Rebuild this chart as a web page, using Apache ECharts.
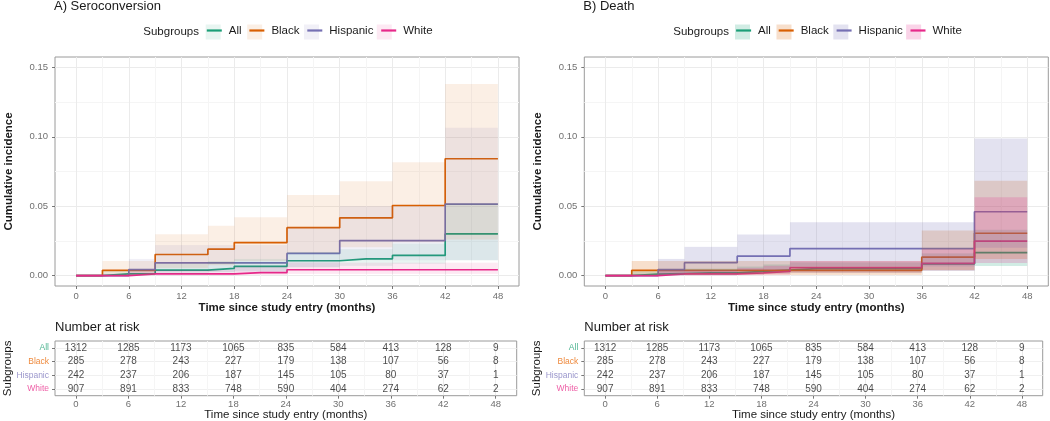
<!DOCTYPE html>
<html>
<head>
<meta charset="utf-8">
<script src="https://cdn.jsdelivr.net/npm/echarts@6/dist/echarts.min.js"></script>
<style>
html, body { margin: 0; padding: 0; background: #fff; }
#main { width: 1050px; height: 421px; }
</style>
</head>
<body>
<div id="main"></div>
<script>
// groups and colours
var groups = ['All', 'Black', 'Hispanic', 'White'];
var colors = ['#1B9E77', '#D95F02', '#7570B3', '#E7298A'];
var rgb = ['27,158,119', '217,95,2', '117,112,179', '231,41,138'];
var riskColors = ['#4fb592', '#ee8a3e', '#9b97cc', '#ee5ea6'];

// step times (months); value i holds from T[i] to T[i+1]
var T = [0, 3, 6, 9, 12, 15, 18, 21, 24, 27, 30, 33, 36, 39, 42, 45, 48];

// A) Seroconversion
var seroAll     = [0, 0.0012, 0.0015, 0.004, 0.004, 0.0052, 0.0067, 0.0067, 0.0107, 0.0107, 0.0121, 0.0121, 0.0145, 0.0145, 0.030, 0.030, 0.030];
var seroAllLo   = [0, 0.0002, 0.0003, 0.0015, 0.0015, 0.0024, 0.0034, 0.0034, 0.006, 0.006, 0.007, 0.007, 0.0085, 0.0085, 0.011, 0.011, 0.011];
var seroAllHi   = [0, 0.0035, 0.004, 0.0085, 0.0085, 0.0105, 0.012, 0.012, 0.017, 0.017, 0.019, 0.019, 0.023, 0.023, 0.052, 0.052, 0.052];
var seroBlack   = [0, 0.0038, 0.0038, 0.0152, 0.0152, 0.019, 0.0238, 0.0238, 0.0345, 0.0345, 0.0416, 0.0416, 0.0505, 0.0505, 0.0842, 0.0842, 0.0842];
var seroBlackLo = [0, 0.0005, 0.0005, 0.0055, 0.0055, 0.0075, 0.0105, 0.0105, 0.0165, 0.0165, 0.0205, 0.0205, 0.024, 0.024, 0.026, 0.026, 0.026];
var seroBlackHi = [0, 0.0105, 0.0105, 0.0298, 0.0298, 0.036, 0.042, 0.042, 0.058, 0.058, 0.068, 0.068, 0.0816, 0.0816, 0.138, 0.138, 0.138];
var seroHisp    = [0, 0, 0.0043, 0.0092, 0.0092, 0.0092, 0.0092, 0.0092, 0.016, 0.016, 0.0252, 0.0252, 0.0252, 0.0252, 0.0515, 0.0515, 0.0515];
var seroHispLo  = [0, 0, 0.0006, 0.0025, 0.0025, 0.0025, 0.0025, 0.0025, 0.006, 0.006, 0.011, 0.011, 0.011, 0.011, 0.011, 0.011, 0.011];
var seroHispHi  = [0, 0, 0.012, 0.022, 0.022, 0.022, 0.022, 0.022, 0.035, 0.035, 0.05, 0.05, 0.05, 0.05, 0.1066, 0.1066, 0.1066];
var seroWhite   = [0, 0, 0.0012, 0.0012, 0.0012, 0.0012, 0.0022, 0.0022, 0.0042, 0.0042, 0.0042, 0.0042, 0.0042, 0.0042, 0.0042, 0.0042, 0.0042];
var seroWhiteLo = [0, 0, 0.0001, 0.0001, 0.0001, 0.0001, 0.0004, 0.0004, 0.0012, 0.0012, 0.0012, 0.0012, 0.0012, 0.0012, 0.0012, 0.0012, 0.0012];
var seroWhiteHi = [0, 0, 0.004, 0.004, 0.004, 0.004, 0.0065, 0.0065, 0.0093, 0.0093, 0.0093, 0.0093, 0.0093, 0.0093, 0.0093, 0.0093, 0.0093];

// B) Death
var deathAll     = [0, 0.001, 0.0015, 0.002, 0.002, 0.003, 0.004, 0.005, 0.005, 0.005, 0.005, 0.005, 0.0085, 0.0085, 0.0165, 0.0165, 0.0165];
var deathAllLo   = [0, 0.0002, 0.0003, 0.0005, 0.0005, 0.001, 0.0015, 0.002, 0.002, 0.002, 0.002, 0.002, 0.0035, 0.0035, 0.007, 0.007, 0.007];
var deathAllHi   = [0, 0.003, 0.004, 0.005, 0.005, 0.0065, 0.008, 0.0095, 0.0095, 0.0095, 0.0095, 0.0095, 0.016, 0.016, 0.033, 0.033, 0.033];
var deathBlack   = [0, 0.0038, 0.0038, 0.0038, 0.0038, 0.0038, 0.0038, 0.0038, 0.0038, 0.0038, 0.0038, 0.0038, 0.0133, 0.0133, 0.0305, 0.0305, 0.0305];
var deathBlackLo = [0, 0.0005, 0.0005, 0.0005, 0.0005, 0.0005, 0.0005, 0.0005, 0.0005, 0.0005, 0.0005, 0.0005, 0.004, 0.004, 0.012, 0.012, 0.012];
var deathBlackHi = [0, 0.0105, 0.0105, 0.0105, 0.0105, 0.0105, 0.0105, 0.0105, 0.0105, 0.0105, 0.0105, 0.0105, 0.0324, 0.0324, 0.0684, 0.0684, 0.0684];
var deathHisp    = [0, 0, 0.0043, 0.0093, 0.0093, 0.014, 0.014, 0.0195, 0.0195, 0.0195, 0.0195, 0.0195, 0.0195, 0.0195, 0.046, 0.046, 0.046];
var deathHispLo  = [0, 0, 0.0006, 0.002, 0.002, 0.004, 0.004, 0.0065, 0.0065, 0.0065, 0.0065, 0.0065, 0.0065, 0.0065, 0.02, 0.02, 0.02];
var deathHispHi  = [0, 0, 0.012, 0.0207, 0.0207, 0.0296, 0.0296, 0.0384, 0.0384, 0.0384, 0.0384, 0.0384, 0.0384, 0.0384, 0.0988, 0.0988, 0.0988];
var deathWhite   = [0, 0, 0.0012, 0.0012, 0.0012, 0.002, 0.003, 0.0057, 0.0057, 0.0057, 0.0057, 0.0057, 0.0088, 0.0088, 0.0248, 0.0248, 0.0248];
var deathWhiteLo = [0, 0, 0.0001, 0.0001, 0.0001, 0.0004, 0.0008, 0.002, 0.002, 0.002, 0.002, 0.002, 0.0035, 0.0035, 0.009, 0.009, 0.009];
var deathWhiteHi = [0, 0, 0.004, 0.004, 0.004, 0.0055, 0.007, 0.0105, 0.0105, 0.0105, 0.0105, 0.0105, 0.019, 0.019, 0.0565, 0.0565, 0.0565];

// number at risk (same table under both panels)
var riskTimes    = [0, 6, 12, 18, 24, 30, 36, 42, 48];
var riskAll      = [1312, 1285, 1173, 1065, 835, 584, 413, 128, 9];
var riskBlack    = [285, 278, 243, 227, 179, 138, 107, 56, 8];
var riskHispanic = [242, 237, 206, 187, 145, 105, 80, 37, 1];
var riskWhite    = [907, 891, 833, 748, 590, 404, 274, 62, 2];

// axis ticks
var xTicks = [0, 6, 12, 18, 24, 30, 36, 42, 48];
var xMinor = [3, 9, 15, 21, 27, 33, 39, 45];
var yTicks = [0, 0.05, 0.10, 0.15];
var yMinor = [0.025, 0.075, 0.125];

var FONT = 'Liberation Sans, Arial, sans-serif';

var panels = [
    {
        key: 'A', title: 'A) Seroconversion', left: 55, tableWidth: 461.7,
        subLeft: 143.3, legendLeft: 205.7, alpha: 0.1,
        est: [seroAll, seroBlack, seroHisp, seroWhite],
        lo: [seroAllLo, seroBlackLo, seroHispLo, seroWhiteLo],
        hi: [seroAllHi, seroBlackHi, seroHispHi, seroWhiteHi]
    },
    {
        key: 'B', title: 'B) Death', left: 584.3, tableWidth: 458.4,
        subLeft: 673.3, legendLeft: 735, alpha: 0.2,
        est: [deathAll, deathBlack, deathHisp, deathWhite],
        lo: [deathAllLo, deathBlackLo, deathHispLo, deathWhiteLo],
        hi: [deathAllHi, deathBlackHi, deathHispHi, deathWhiteHi]
    }
];
var risk = [riskAll, riskBlack, riskHispanic, riskWhite];

function renderBand(params, api) {
    var a = api.coord([api.value(0), api.value(3)]);
    var b = api.coord([api.value(1), api.value(2)]);
    return {
        type: 'rect',
        shape: { x: a[0], y: a[1], width: b[0] - a[0], height: b[1] - a[1] },
        style: { fill: api.visual('color') }
    };
}

function mainX(gi, name, bold, gap, margin) {
    return {
        type: 'value', gridIndex: gi, min: -2.4, max: 50.4, position: 'bottom',
        name: name, nameLocation: 'middle', nameGap: gap, nameMoveOverlap: false,
        nameTextStyle: { fontFamily: FONT, fontSize: 11.5, fontWeight: bold ? 'bold' : 'normal', color: '#1a1a1a' },
        axisLine: { show: false, onZero: false },
        axisTick: { show: true, length: 3, customValues: xTicks, lineStyle: { color: '#555', width: 0.8 } },
        axisLabel: { customValues: xTicks, fontFamily: FONT, fontSize: 9.5, color: '#707070', margin: margin },
        splitLine: { show: true, lineStyle: { color: '#ebebeb', width: 1 } }
    };
}
function minorX(gi) {
    return {
        type: 'value', gridIndex: gi, min: -2.4, max: 50.4, position: 'top',
        axisLine: { show: false, onZero: false },
        axisTick: { show: false, customValues: xMinor },
        axisLabel: { show: false },
        splitLine: { show: true, lineStyle: { color: '#f5f5f5', width: 1 } }
    };
}

var option = {
    animation: false,
    backgroundColor: '#fff',
    textStyle: { fontFamily: FONT },
    title: [], legend: [], grid: [], xAxis: [], yAxis: [], series: []
};

panels.forEach(function (p, pi) {
    var gTop = pi * 2, gRisk = pi * 2 + 1;
    var xm = pi * 4, xr = pi * 4 + 2;
    var ym = pi * 3, yr = pi * 3 + 2;

    option.title.push(
        { text: p.title, left: p.left - 1, top: 0, padding: 0,
          textStyle: { fontFamily: FONT, fontSize: 13, fontWeight: 'normal', color: '#1a1a1a' } },
        { text: 'Subgroups', left: p.subLeft, top: 25.5, padding: 0,
          textStyle: { fontFamily: FONT, fontSize: 11.5, fontWeight: 'normal', color: '#1a1a1a' } },
        { text: 'Number at risk', left: p.left, top: 321, padding: 0,
          textStyle: { fontFamily: FONT, fontSize: 13, fontWeight: 'normal', color: '#1a1a1a' } }
    );

    var lineNames = groups.map(function (g) { return p.key + ':' + g; });
    var bandNames = groups.map(function (g) { return p.key + ':' + g + ':ci'; });
    var legendBase = {
        left: p.legendLeft, top: 24.5, padding: 0, orient: 'horizontal',
        itemWidth: 15, itemHeight: 15, itemGap: 6.7, selectedMode: false,
        formatter: function (n) { return n.split(':')[1]; }
    };
    option.legend.push(Object.assign({}, legendBase, {
        z: 3, data: bandNames, icon: 'rect',
        textStyle: { fontFamily: FONT, fontSize: 11.5, color: 'rgba(0,0,0,0)', padding: [0, 0, 0, 2] }
    }));
    option.legend.push(Object.assign({}, legendBase, {
        z: 4, data: lineNames,
        itemStyle: { opacity: 0 },
        lineStyle: { width: 2.2 },
        textStyle: { fontFamily: FONT, fontSize: 11.5, color: '#1a1a1a', padding: [0, 0, 0, 2] }
    }));

    option.grid.push(
        { left: p.left, top: 57, width: 464, height: 229, show: true,
          borderColor: '#9a9a9a', borderWidth: 1, backgroundColor: 'transparent', outerBoundsMode: 'none' },
        { left: p.left, top: 341, width: p.tableWidth, height: 54.7, show: true,
          borderColor: '#9a9a9a', borderWidth: 1, backgroundColor: 'transparent', outerBoundsMode: 'none' }
    );

    option.xAxis.push(
        mainX(gTop, 'Time since study entry (months)', true, 15.5, 5),
        minorX(gTop),
        mainX(gRisk, 'Time since study entry (months)', false, 13.5, 4),
        minorX(gRisk)
    );

    option.yAxis.push(
        {
            type: 'value', gridIndex: gTop, min: -0.0075, max: 0.1575, position: 'left',
            name: 'Cumulative incidence', nameLocation: 'middle', nameGap: 40, nameMoveOverlap: false,
            nameTextStyle: { fontFamily: FONT, fontSize: 11.5, fontWeight: 'bold', color: '#1a1a1a' },
            axisLine: { show: false, onZero: false },
            axisTick: { show: true, length: 3, customValues: yTicks, lineStyle: { color: '#555', width: 0.8 } },
            axisLabel: { customValues: yTicks, fontFamily: FONT, fontSize: 9.5, color: '#707070', margin: 7,
                         formatter: function (v) { return v.toFixed(2); } },
            splitLine: { show: true, lineStyle: { color: '#ebebeb', width: 1 } }
        },
        {
            type: 'value', gridIndex: gTop, min: -0.0075, max: 0.1575, position: 'right',
            axisLine: { show: false, onZero: false },
            axisTick: { show: false, customValues: yMinor },
            axisLabel: { show: false },
            splitLine: { show: true, lineStyle: { color: '#f5f5f5', width: 1 } }
        },
        {
            type: 'category', gridIndex: gRisk, data: groups, inverse: true, position: 'left',
            name: 'Subgroups', nameLocation: 'middle', nameGap: 41, nameMoveOverlap: false,
            nameTextStyle: { fontFamily: FONT, fontSize: 11.5, color: '#1a1a1a' },
            axisLine: { show: false, onZero: false },
            axisTick: { show: true, length: 3, alignWithLabel: true, lineStyle: { color: '#555', width: 0.8 } },
            axisLabel: { fontFamily: FONT, fontSize: 8.5, margin: 6,
                         color: function (v, i) { return riskColors[groups.indexOf(v)]; } },
            splitLine: { show: true, alignWithLabel: true, lineStyle: { color: '#f0f0f0', width: 1 } }
        }
    );

    groups.forEach(function (g, gi) {
        var est = p.est[gi], lo = p.lo[gi], hi = p.hi[gi];
        var lineData = T.map(function (t, i) { return [t, est[i]]; });
        var bandData = [];
        for (var i = 0; i < T.length - 1; i++) {
            if (hi[i] > lo[i]) bandData.push([T[i], T[i + 1], lo[i], hi[i]]);
        }
        option.series.push({
            name: lineNames[gi], type: 'line', xAxisIndex: xm, yAxisIndex: ym,
            data: lineData, step: 'end', symbol: 'none', z: 2,
            color: colors[gi], lineStyle: { color: colors[gi], width: 1.7 },
            emphasis: { disabled: true }
        });
        option.series.push({
            name: bandNames[gi], type: 'custom', xAxisIndex: xm, yAxisIndex: ym,
            data: bandData, renderItem: renderBand, z: 3,
            encode: { x: [0, 1], y: [2, 3] },
            itemStyle: { color: 'rgba(' + rgb[gi] + ',' + p.alpha + ')' },
            emphasis: { disabled: true }
        });
        option.series.push({
            name: p.key + ':risk:' + g, type: 'scatter', xAxisIndex: xr, yAxisIndex: yr,
            data: riskTimes.map(function (t, i) { return [t, g, risk[gi][i]]; }),
            symbolSize: 1, itemStyle: { color: 'rgba(0,0,0,0)' },
            label: { show: true, position: 'inside', fontFamily: FONT, fontSize: 10, color: '#1a1a1a',
                     formatter: function (d) { return String(d.value[2]); } },
            emphasis: { disabled: true }
        });
    });
});

var chart = echarts.init(document.getElementById('main'));
chart.setOption(option);
</script>
</body>
</html>
